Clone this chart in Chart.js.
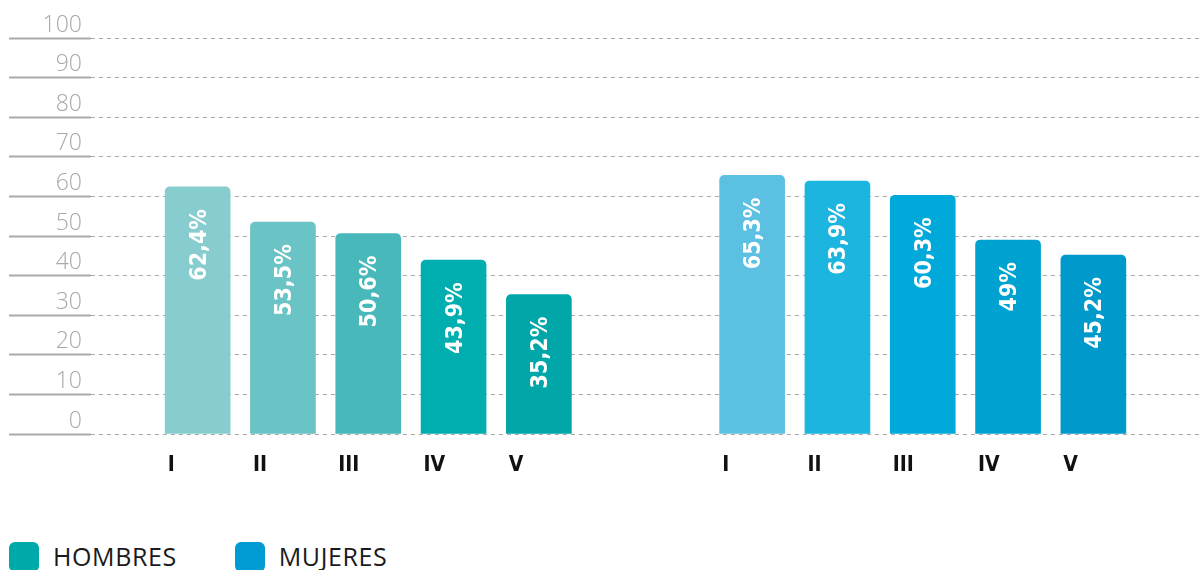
<!DOCTYPE html>
<html lang="es">
<head>
    <meta charset="UTF-8">
    <title>Hombres / Mujeres</title>
    <script src="https://cdn.jsdelivr.net/npm/chart.js"></script>
    <style>
        html, body { margin: 0; padding: 0; background: #fff; overflow: hidden; }
        .wrap { position: relative; width: 1200px; height: 570px; }
        canvas { display: block; }
        .legend { position: absolute; left: 9px; top: 542px; display: flex; font-family: 'Open Sans', sans-serif; }
        .legend-item { display: flex; align-items: flex-start; margin-right: 58px; }
        .legend-box { width: 30px; height: 30px; border-radius: 6px; margin-right: 14px; }
        .legend-text { font-size: 25px; font-weight: 400; color: #1a1a1a; line-height: 29px; letter-spacing: 0.6px; }
    </style>
</head>
<body>
<div class="wrap">
    <canvas id="chart" width="1200" height="500"></canvas>
    <div class="legend" id="legend"></div>
</div>

<script>
    // data
    const tickLabels = ['I', 'II', 'III', 'IV', 'V'];
    const hombres = [62.4, 53.5, 50.6, 43.9, 35.2];
    const mujeres = [65.3, 63.9, 60.3, 49, 45.2];
    const hombresColors = ['#87CDD0', '#6AC3C4', '#48B8BA', '#00AEB0', '#00A6A8'];
    const mujeresColors = ['#5CC0E3', '#1BB5DF', '#00A9D9', '#00A2D2', '#0099CB'];
    const seriesNames = ['HOMBRES', 'MUJERES'];
    const legendColors = ['#00AAAA', '#009BD3'];

    // half-width slots: bars sit on every second slot, groups are split by a wider gap
    const labels = [], hData = [], mData = [], hCol = [], mCol = [];
    function slot(label, h, m, hc, mc) {
        labels.push(label); hData.push(h); mData.push(m); hCol.push(hc); mCol.push(mc);
    }
    function blanks(n) { for (let i = 0; i < n; i++) slot('', null, null, 'transparent', 'transparent'); }

    blanks(2);
    tickLabels.forEach((t, i) => { slot(t, hombres[i], null, hombresColors[i], 'transparent'); if (i < 4) blanks(1); });
    blanks(4);
    tickLabels.forEach((t, i) => { slot(t, null, mujeres[i], 'transparent', mujeresColors[i]); if (i < 4) blanks(1); });
    blanks(2);

    const valueFont = "bold 23px 'DejaVu Sans Condensed', 'DejaVu Sans', sans-serif";

    const valueLabels = {
        id: 'valueLabels',
        afterDatasetsDraw(chart) {
            const ctx = chart.ctx;
            chart.data.datasets.forEach((ds, di) => {
                chart.getDatasetMeta(di).data.forEach((bar, i) => {
                    const v = ds.data[i];
                    if (v == null) return;
                    ctx.save();
                    ctx.translate(bar.x + 1, bar.y + 22);
                    ctx.rotate(-Math.PI / 2);
                    ctx.textAlign = 'right';
                    ctx.textBaseline = 'middle';
                    ctx.fillStyle = '#fff';
                    ctx.font = valueFont;
                    ctx.fillText(String(v).replace('.', ',') + '%', 0, 1);
                    ctx.restore();
                });
            });
        }
    };

    const ctx = document.getElementById('chart').getContext('2d');
    new Chart(ctx, {
        type: 'bar',
        data: {
            labels: labels,
            datasets: [{
                label: seriesNames[0],
                data: hData,
                backgroundColor: hCol,
                grouped: false,
                barThickness: 65,
                borderRadius: 5,
                borderSkipped: 'start'
            }, {
                label: seriesNames[1],
                data: mData,
                backgroundColor: mCol,
                grouped: false,
                barThickness: 65,
                borderRadius: 5,
                borderSkipped: 'start'
            }]
        },
        options: {
            responsive: false,
            animation: false,
            layout: { padding: { top: 38, left: 0, right: -4, bottom: 0 } },
            plugins: {
                legend: { display: false },
                tooltip: { enabled: false }
            },
            scales: {
                x: {
                    grid: { display: false },
                    border: { display: false },
                    ticks: {
                        autoSkip: false,
                        maxRotation: 0,
                        align: 'start',
                        labelOffset: -30,
                        padding: 11,
                        color: '#111',
                        font: { family: "'DejaVu Sans Condensed', 'DejaVu Sans', sans-serif", size: 21, weight: 'bold' }
                    },
                    afterFit(scale) { scale.height = 66; }
                },
                y: {
                    min: 0,
                    max: 100,
                    z: 1,
                    ticks: {
                        stepSize: 10,
                        padding: -73,
                        labelOffset: -13,
                        color: '#a8a8a8',
                        font: { family: "'Open Sans', sans-serif", size: 23, weight: '300' }
                    },
                    grid: {
                        color: 'rgba(0,0,0,0.33)',
                        tickLength: 82,
                        tickColor: '#aaa',
                        tickWidth: 2,
                        tickBorderDash: []
                    },
                    border: { display: false, dash: [4, 4] },
                    afterFit(scale) { scale.width = 91; }
                }
            }
        },
        plugins: [valueLabels]
    });

    // legend
    const legend = document.getElementById('legend');
    seriesNames.forEach((name, i) => {
        const item = document.createElement('div');
        item.className = 'legend-item';
        item.innerHTML = '<div class="legend-box" style="background:' + legendColors[i] + '"></div><div class="legend-text">' + name + '</div>';
        legend.appendChild(item);
    });
</script>
</body>
</html>
